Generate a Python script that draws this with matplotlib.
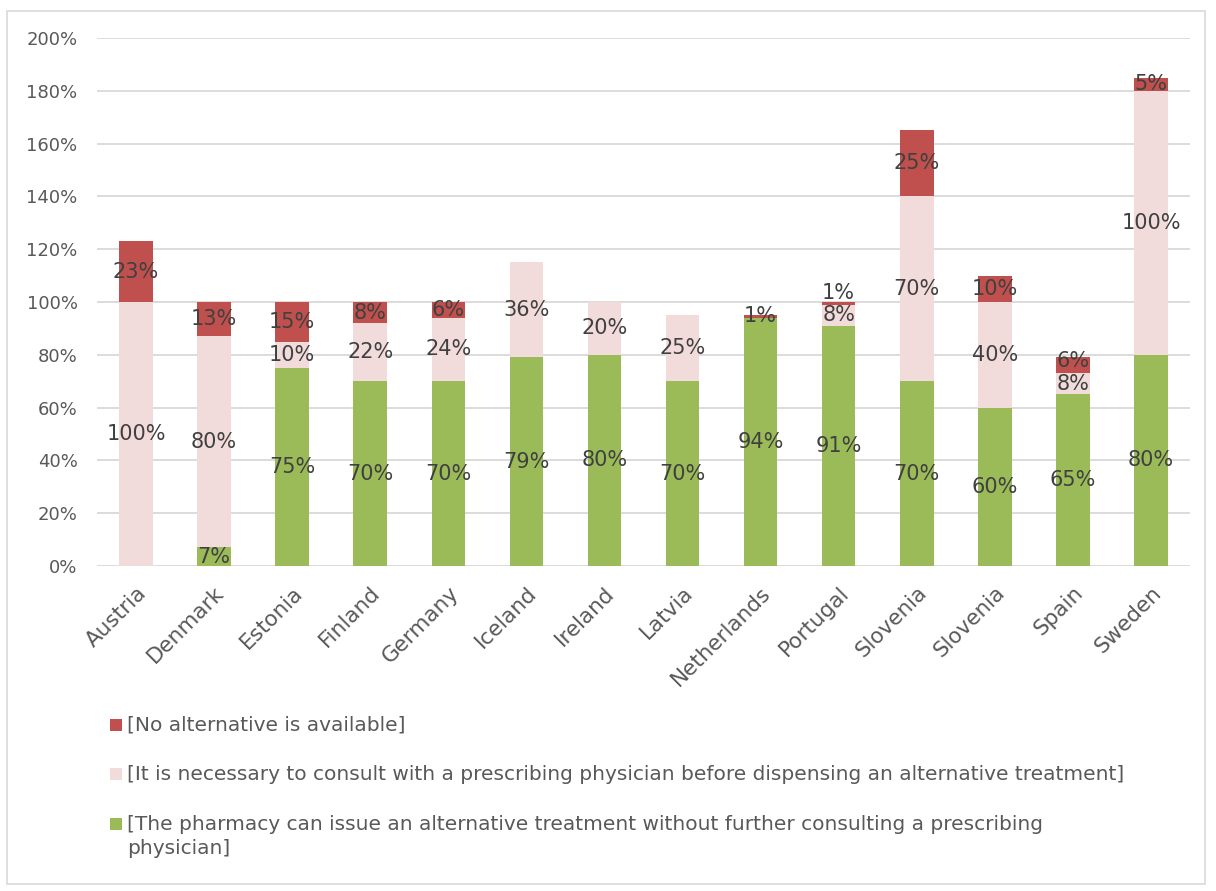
import matplotlib
matplotlib.use("Agg")
import matplotlib.pyplot as plt
from matplotlib.patches import Rectangle
from matplotlib.ticker import FuncFormatter

countries = ["Austria", "Denmark", "Estonia", "Finland", "Germany", "Iceland",
             "Ireland", "Latvia", "Netherlands", "Portugal", "Slovenia",
             "Slovenia", "Spain", "Sweden"]
pharmacy_can_issue = [0, 7, 75, 70, 70, 79, 80, 70, 94, 91, 70, 60, 65, 80]
consult_physician = [100, 80, 10, 22, 24, 36, 20, 25, 0, 8, 70, 40, 8, 100]
no_alternative = [23, 13, 15, 8, 6, 0, 0, 0, 1, 1, 25, 10, 6, 5]

series_labels = [
    "[The pharmacy can issue an alternative treatment without further consulting a prescribing\nphysician]",
    "[It is necessary to consult with a prescribing physician before dispensing an alternative treatment]",
    "[No alternative is available]",
]
colors = ["#9BBB59", "#F2DCDB", "#C0504D"]

plt.rcParams["font.family"] = ["DejaVu Sans"]

W, H = 1216, 891
fig = plt.figure(figsize=(W / 100, H / 100), dpi=100)
ax = fig.add_axes([0.0798, 0.3648, 0.8988, 0.5926])

x = list(range(len(countries)))
width = 0.43
bottoms = [0] * len(countries)
prev_label_y = [None] * len(countries)
min_gap = 8.5  # minimum vertical spacing between stacked value labels
for vals, col in zip([pharmacy_can_issue, consult_physician, no_alternative], colors):
    ax.bar(x, vals, width, bottom=bottoms, color=col, zorder=2)
    for i, (xi, v, b) in enumerate(zip(x, vals, bottoms)):
        if v > 0:
            y = b + v / 2
            if prev_label_y[i] is not None and y - prev_label_y[i] < min_gap:
                y = prev_label_y[i] + min_gap
            ax.text(xi, y, f"{v}%", ha="center", va="center",
                    fontsize=15, color="#404040", zorder=3)
            prev_label_y[i] = y
    bottoms = [b + v for b, v in zip(bottoms, vals)]

ax.set_xlim(-0.5, len(countries) - 0.5)
ax.set_ylim(0, 200)
ax.set_yticks(range(0, 201, 20))
ax.yaxis.set_major_formatter(FuncFormatter(lambda v, p: f"{int(v)}%"))
ax.grid(axis="y", color="#D9D9D9", linewidth=1.3, zorder=0)
for s in ax.spines.values():
    s.set_visible(False)
ax.tick_params(axis="both", length=0, colors="#595959", labelsize=13)
ax.tick_params(axis="y", pad=14)
ax.tick_params(axis="x", pad=12)
ax.set_xticks(x)
ax.set_xticklabels(countries, rotation=45, ha="right", rotation_mode="anchor",
                   fontsize=15.5, color="#595959")

# legend below the plot: one row per series, red series first
row_y = [725, 774, 824]
line_step = 25
for ry, col, lab in zip(row_y, colors[::-1], series_labels[::-1]):
    fig.patches.append(Rectangle((110 / W, 1 - (ry + 6) / H), 12 / W, 12 / H,
                                 transform=fig.transFigure, facecolor=col,
                                 edgecolor="none"))
    for k, line in enumerate(lab.split("\n")):
        fig.text(127 / W, 1 - (ry + k * line_step) / H, line, ha="left",
                 va="center", fontsize=14.5, color="#595959")

# outer chart border
fig.patches.append(Rectangle((0.006, 0.008), 0.985, 0.98, transform=fig.transFigure,
                             fill=False, edgecolor="#D9D9D9", linewidth=1.2))

fig.savefig("out.png", dpi=100)
